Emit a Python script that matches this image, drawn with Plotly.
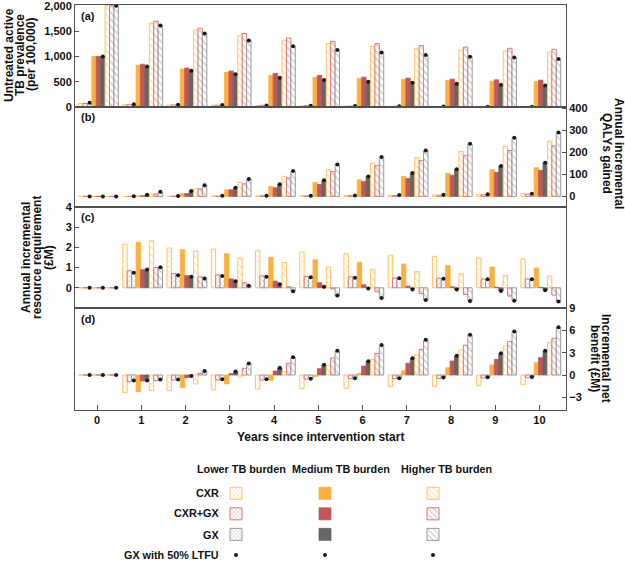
import plotly.graph_objects as go

years = list(range(11))
techs = ["CXR", "CXR+GX", "GX"]
burdens = ["Lower TB burden", "Medium TB burden", "Higher TB burden"]

# Panel (a): untreated active TB prevalence (per 100,000)
a_lower_cxr = [70, 50, 40, 35, 28, 22, 16, 12, 9, 6, 4]
a_lower_cxrgx = [70, 52, 42, 36, 35, 25, 18, 14, 10, 7, 5]
a_lower_gx = [70, 50, 40, 33, 27, 21, 15, 11, 8, 6, 4]
a_lower_dot = [82, 54, 45, 38, 32, 25, 18, 13, 10, 7, 5]
a_med_cxr = [1000, 825, 750, 685, 625, 590, 563, 543, 523, 510, 503]
a_med_cxrgx = [1000, 845, 770, 710, 665, 623, 589, 570, 550, 536, 530]
a_med_gx = [1000, 795, 715, 645, 578, 530, 497, 477, 457, 437, 424]
a_med_dot = [1000, 800, 718, 648, 580, 532, 500, 480, 460, 440, 427]
a_high_cxr = [2000, 1656, 1517, 1404, 1318, 1252, 1199, 1159, 1126, 1106, 1086]
a_high_cxrgx = [2000, 1695, 1556, 1450, 1364, 1298, 1252, 1212, 1185, 1159, 1139]
a_high_gx = [2000, 1609, 1450, 1311, 1199, 1126, 1073, 1026, 993, 974, 947]
a_high_dot = [2000, 1610, 1452, 1313, 1201, 1128, 1075, 1028, 995, 976, 950]

# Panel (b): annual incremental QALYs gained
b_lower_cxr = [0, 0, 1, 2, 2, 3, 4, 5, 7, 9, 13]
b_lower_cxrgx = [0, 0, 1, 1, 2, 2, 3, 4, 5, 7, 10]
b_lower_gx = [0, 1, 2, 3, 3, 3, 4, 6, 8, 10, 12]
b_lower_dot = [0, 1, 2, 3, 3, 3, 4, 6, 8, 10, 12]
b_med_cxr = [0, 2, 13, 30, 45, 63, 75, 90, 105, 121, 130]
b_med_cxrgx = [0, 3, 13, 30, 39, 54, 67, 81, 96, 109, 118]
b_med_gx = [0, 7, 25, 39, 55, 73, 90, 106, 123, 138, 153]
b_med_dot = [0, 7, 25, 39, 55, 73, 90, 106, 123, 138, 153]
b_high_cxr = [0, 10, 34, 63, 91, 121, 151, 177, 204, 228, 250]
b_high_cxrgx = [0, 11, 34, 57, 84, 112, 139, 162, 184, 208, 229]
b_high_gx = [0, 20, 49, 78, 114, 144, 177, 207, 238, 265, 289]
b_high_dot = [0, 21, 50, 79, 115, 145, 178, 208, 239, 266, 290]

# Panel (c): annual incremental resource requirement (GBP M)
c_lower_cxr = [0, 2.16, 1.97, 1.92, 1.84, 1.77, 1.69, 1.62, 1.56, 1.48, 1.43]
c_lower_cxrgx = [0, 0.85, 0.70, 0.64, 0.59, 0.56, 0.54, 0.49, 0.48, 0.44, 0.44]
c_lower_gx = [0, 0.77, 0.65, 0.59, 0.56, 0.52, 0.49, 0.46, 0.44, 0.41, 0.41]
c_lower_dot = [0, 0.75, 0.62, 0.58, 0.55, 0.52, 0.50, 0.47, 0.45, 0.42, 0.42]
c_med_cxr = [0, 2.25, 1.89, 1.69, 1.51, 1.39, 1.26, 1.18, 1.10, 1.03, 0.98]
c_med_cxrgx = [0, 0.90, 0.60, 0.44, 0.33, 0.25, 0.15, 0.08, 0.05, 0.03, 0.02]
c_med_gx = [0, 0.89, 0.56, 0.36, 0.20, 0.08, 0.00, -0.05, -0.08, -0.16, -0.11]
c_med_dot = [0, 0.90, 0.55, 0.33, 0.18, 0.05, -0.03, -0.08, -0.08, -0.16, -0.12]
c_high_cxr = [0, 2.33, 1.82, 1.48, 1.25, 1.03, 0.90, 0.80, 0.70, 0.62, 0.59]
c_high_cxrgx = [0, 1.00, 0.54, 0.25, 0.05, -0.05, -0.20, -0.28, -0.33, -0.41, -0.36]
c_high_gx = [0, 1.00, 0.46, 0.11, -0.16, -0.41, -0.52, -0.62, -0.66, -0.64, -0.70]
c_high_dot = [0, 1.02, 0.46, 0.10, -0.17, -0.38, -0.50, -0.60, -0.65, -0.64, -0.68]

# Panel (d): incremental net benefit (GBP M)
d_lower_cxr = [0, -2.38, -2.10, -2.00, -1.90, -1.84, -1.80, -1.57, -1.52, -1.40, -1.30]
d_lower_cxrgx = [0, -0.90, -0.67, -0.67, -0.67, -0.54, -0.50, -0.50, -0.45, -0.40, -0.36]
d_lower_gx = [0, -0.80, -0.60, -0.60, -0.60, -0.50, -0.45, -0.45, -0.36, -0.30, -0.27]
d_lower_dot = [0, -0.75, -0.60, -0.58, -0.58, -0.50, -0.45, -0.42, -0.35, -0.30, -0.27]
d_med_cxr = [0, -2.24, -1.70, -1.20, -0.70, -0.22, 0.22, 0.58, 0.98, 1.35, 1.66]
d_med_cxrgx = [0, -0.80, -0.36, 0.18, 0.54, 0.85, 1.20, 1.57, 1.88, 2.10, 2.33]
d_med_gx = [0, -0.80, -0.20, 0.45, 0.94, 1.35, 1.84, 2.24, 2.56, 2.90, 3.23]
d_med_dot = [0, -0.75, -0.12, 0.48, 0.96, 1.37, 1.86, 2.26, 2.58, 2.92, 3.25]
d_high_cxr = [0, -2.10, -1.20, -0.30, 0.40, 1.30, 2.10, 2.69, 3.36, 3.90, 4.40]
d_high_cxrgx = [0, -0.76, 0.22, 0.90, 1.57, 2.29, 2.90, 3.45, 4.00, 4.48, 4.93]
d_high_gx = [0, -0.67, 0.54, 1.52, 2.38, 3.23, 4.00, 4.70, 5.38, 5.83, 6.37]
d_high_dot = [0, -0.60, 0.55, 1.53, 2.40, 3.25, 4.02, 4.72, 5.40, 5.85, 6.40]

panels = [
    [[a_lower_cxr, a_lower_cxrgx, a_lower_gx, a_lower_dot],
     [a_med_cxr, a_med_cxrgx, a_med_gx, a_med_dot],
     [a_high_cxr, a_high_cxrgx, a_high_gx, a_high_dot]],
    [[b_lower_cxr, b_lower_cxrgx, b_lower_gx, b_lower_dot],
     [b_med_cxr, b_med_cxrgx, b_med_gx, b_med_dot],
     [b_high_cxr, b_high_cxrgx, b_high_gx, b_high_dot]],
    [[c_lower_cxr, c_lower_cxrgx, c_lower_gx, c_lower_dot],
     [c_med_cxr, c_med_cxrgx, c_med_gx, c_med_dot],
     [c_high_cxr, c_high_cxrgx, c_high_gx, c_high_dot]],
    [[d_lower_cxr, d_lower_cxrgx, d_lower_gx, d_lower_dot],
     [d_med_cxr, d_med_cxrgx, d_med_gx, d_med_dot],
     [d_high_cxr, d_high_cxrgx, d_high_gx, d_high_dot]],
]

W, H = 625, 561
FONT = "Liberation Sans, Arial, sans-serif"
base_col = {"CXR": "#FBB03F", "CXR+GX": "#C0585A", "GX": "#666666"}
light_col = {"CXR": "#FDC570", "CXR+GX": "#D68484", "GX": "#A0A0A0"}
edge_col = {"CXR": "#FDC36A", "CXR+GX": "#D07A7A", "GX": "#9A9A9A"}

BAR_W = 0.1
START = -0.42

def px_x(x):
    return x / W

def px_y(y):
    return 1 - y / H

xdom = [75 / W, 566 / W]
ydoms = [
    [px_y(107), px_y(5)],
    [px_y(207), px_y(107)],
    [px_y(308), px_y(207)],
    [px_y(410), px_y(308)],
]
yranges = [[0, 2015], [-48, 405], [-1, 4], [-4.7, 9]]
ytickvals = [[0, 500, 1000, 1500, 2000], [0, 100, 200, 300, 400],
             [0, 1, 2, 3, 4], [-3, 0, 3, 6, 9]]
ysides = ["left", "right", "left", "right"]

fig = go.Figure()
legend_names = ["legend", "legend2", "legend3"]

for p, panel in enumerate(panels):
    xa = "x" if p == 0 else f"x{p+1}"
    ya = "y" if p == 0 else f"y{p+1}"
    for bi, series in enumerate(panel):
        for ti, tech in enumerate(techs):
            k = bi * 3 + ti
            if bi == 1:
                marker = dict(color=base_col[tech],
                              line=dict(color=base_col[tech], width=0.8))
            else:
                shape = "x" if bi == 0 else "\\"
                marker = dict(color="white",
                              line=dict(color=edge_col[tech], width=1),
                              pattern=dict(shape=shape, fgcolor=light_col[tech],
                                           bgcolor="white", size=3.5 if bi == 0 else 5,
                                           solidity=0.35 if bi == 0 else 0.3))
            fig.add_trace(go.Bar(
                x=years, y=series[ti], xaxis=xa, yaxis=ya,
                offset=START + k * BAR_W, width=BAR_W,
                marker=marker, name=" ",
                legend=legend_names[bi], showlegend=(p == 0),
                hoverinfo="skip"))
    for bi, series in enumerate(panel):
        off = START + (bi * 3 + 2) * BAR_W + BAR_W / 2
        fig.add_trace(go.Scatter(
            x=[yr + off for yr in years], y=series[3], xaxis=xa, yaxis=ya,
            mode="markers", marker=dict(color="#1a1a1a", size=4),
            name=" ", legend=legend_names[bi], showlegend=(p == 0),
            hoverinfo="skip"))

axis_line = dict(showline=True, linecolor="#505050", linewidth=1.1, mirror=True,
                 showgrid=False, zeroline=False)
tickfont = dict(family=FONT, size=11, color="#111111", weight="bold")

layout = dict(
    width=W, height=H, margin=dict(l=0, r=0, t=0, b=0, autoexpand=False),
    paper_bgcolor="white", plot_bgcolor="white",
    barmode="overlay", font=dict(family=FONT, color="#111111"),
)
for p in range(4):
    xkey = "xaxis" if p == 0 else f"xaxis{p+1}"
    ykey = "yaxis" if p == 0 else f"yaxis{p+1}"
    xa = dict(domain=xdom, range=[-0.5, 10.6], anchor="y" if p == 0 else f"y{p+1}",
              **axis_line)
    if p == 3:
        xa.update(tickvals=years, ticktext=[str(y) for y in years], ticks="inside",
                  ticklen=5, tickcolor="#505050", tickwidth=1.2, tickfont=tickfont,
                  showticklabels=True)
    else:
        xa.update(showticklabels=False, ticks="", matches="x4")
    layout[xkey] = xa
    layout[ykey] = dict(domain=ydoms[p], range=yranges[p], side=ysides[p],
                        anchor="x" if p == 0 else f"x{p+1}",
                        tickvals=ytickvals[p], ticks="inside", ticklen=4,
                        tickcolor="#505050", tickwidth=1.2, tickfont=tickfont,
                        ticklabeloverflow="allow",
                        tickformat=",d" if p == 0 else None, **axis_line)

for bi, ln in enumerate(legend_names):
    lx = [216, 305, 413][bi]
    layout[ln] = dict(x=px_x(lx), y=px_y(478), xanchor="left", yanchor="top",
                      font=dict(size=13.5, family=FONT), bgcolor="rgba(0,0,0,0)",
                      itemwidth=30, tracegroupgap=0)

fig.update_layout(**layout)

ann = []
def add_text(text, x, y, size=12, angle=0, xanchor="center", yanchor="middle"):
    ann.append(dict(text=text, x=px_x(x), y=px_y(y), xref="paper", yref="paper",
                    showarrow=False, textangle=angle, xanchor=xanchor, yanchor=yanchor,
                    font=dict(family=FONT, size=size, color="#111111", weight="bold")))

for line, xx in zip(["Untreated active", "TB prevalence", "(per 100,000)"], [9, 20, 31]):
    add_text(line, xx, 55, angle=-90)
for line, xx in zip(["Annual incremental", "QALYs gained"], [619, 607]):
    add_text(line, xx, 153, angle=90)
for line, xx in zip(["Annual incremental", "resource requirement", "(£M)"], [26, 37, 49]):
    add_text(line, xx, 258, angle=-90)
for line, xx in zip(["Incremental net", "benefit (£M)"], [606, 595]):
    add_text(line, xx, 358, angle=90)
for lab, yy in zip(["(a)", "(b)", "(c)", "(d)"], [16, 117, 217, 319]):
    add_text(lab, 79, yy, size=11, xanchor="left")
add_text("Years since intervention start", 320, 437)
for name, cx in zip(burdens, [241, 341, 446]):
    add_text(name, cx, 469, size=10.8)
for name, yy in zip(["CXR", "CXR+GX", "GX", "GX with 50% LTFU"], [493, 513, 535, 555]):
    add_text(name, 221, yy, size=10.8, xanchor="right")

fig.update_layout(annotations=ann)
fig.write_html("out.html", config={"displayModeBar": False},
               post_script="document.body.style.margin='0px';")
